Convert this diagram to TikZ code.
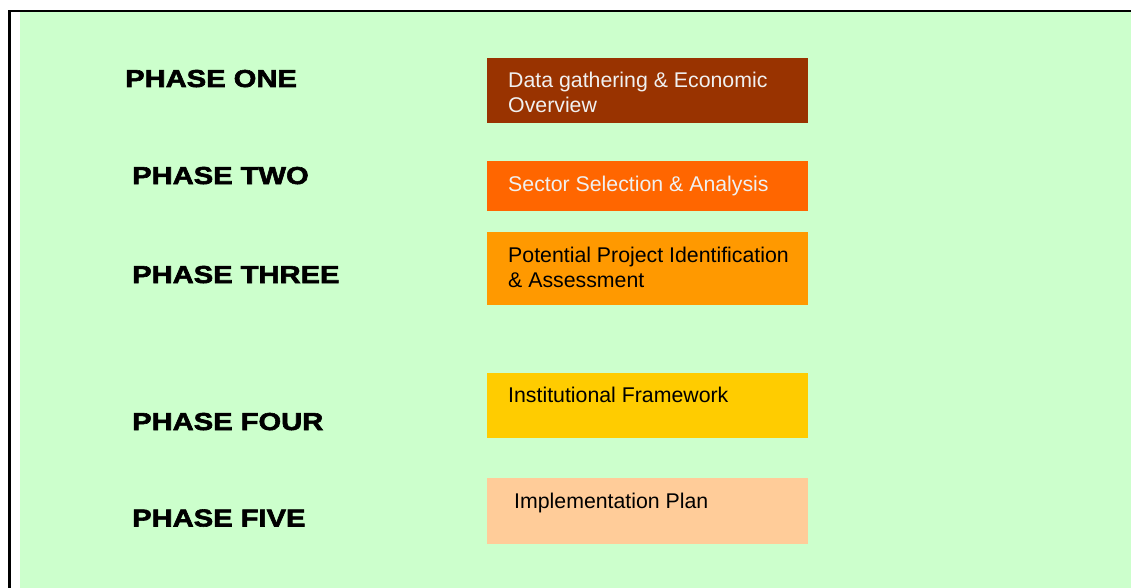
\documentclass[tikz,border=0pt]{standalone}
\usepackage{fontspec}
\setmainfont{Liberation Sans}
\newfontfamily\phasefont{Liberation Sans Bold}[FakeStretch=1.19,FakeBold=2.4]
\definecolor{bgreen}{HTML}{CCFFCC}
\definecolor{cbrown}{HTML}{993300}
\definecolor{corange}{HTML}{FF6600}
\definecolor{camber}{HTML}{FF9900}
\definecolor{cgold}{HTML}{FFCC00}
\definecolor{cpeach}{HTML}{FFCC99}
\tikzset{
  phaselabel/.style={anchor=base west, inner sep=0pt, font=\phasefont\fontsize{24.5}{26}\selectfont},
  stagebox/.style={anchor=north west, inner sep=0pt, minimum width=321pt, rectangle, draw=none},
  stagetext/.style={anchor=base west, inner sep=0pt, align=left, font=\fontsize{21.3}{25}\selectfont}
}
\begin{document}
\begin{tikzpicture}[x=1pt,y=-1pt]
  \useasboundingbox (0,0) rectangle (1131,588);
  % page frame
  \fill[white] (0,0) rectangle (1131,588);
  \fill[bgreen] (20,12) rectangle (1131,588);
  \fill[black] (8,10) rectangle (1131,12.5);
  \fill[black] (8,10) rectangle (11,588);

  % phase labels
  \node[phaselabel] (p1) at (125,87) {PHASE ONE};
  \node[phaselabel] (p2) at (132,184) {PHASE TWO};
  \node[phaselabel] (p3) at (132,283) {PHASE THREE};
  \node[phaselabel] (p4) at (132,430) {PHASE FOUR};
  \node[phaselabel] (p5) at (132,526.5) {PHASE FIVE};

  % stage boxes
  \node[stagebox, fill=cbrown,  minimum height=65pt] (b1) at (487,58) {};
  \node[stagebox, fill=corange, minimum height=50pt] (b2) at (487,161) {};
  \node[stagebox, fill=camber,  minimum height=73pt] (b3) at (487,232) {};
  \node[stagebox, fill=cgold,   minimum height=65pt] (b4) at (487,373) {};
  \node[stagebox, fill=cpeach,  minimum height=66pt] (b5) at (487,478) {};

  % stage texts (base anchor of a two-line node sits on its last line)
  \node[stagetext, text=white!94!black] (t1) at ([shift={(21,54.7)}]b1.north west) {Data gathering \& Economic\\Overview};
  \node[stagetext, text=white!94!black] (t2) at ([shift={(21,30)}]b2.north west) {Sector Selection \& Analysis};
  \node[stagetext, text=black] (t3) at ([shift={(21,55)}]b3.north west) {Potential Project Identification\\\& Assessment};
  \node[stagetext, text=black] (t4) at ([shift={(21,29.7)}]b4.north west) {Institutional Framework};
  \node[stagetext, text=black] (t5) at ([shift={(27,30.3)}]b5.north west) {Implementation Plan};
\end{tikzpicture}
\end{document}
